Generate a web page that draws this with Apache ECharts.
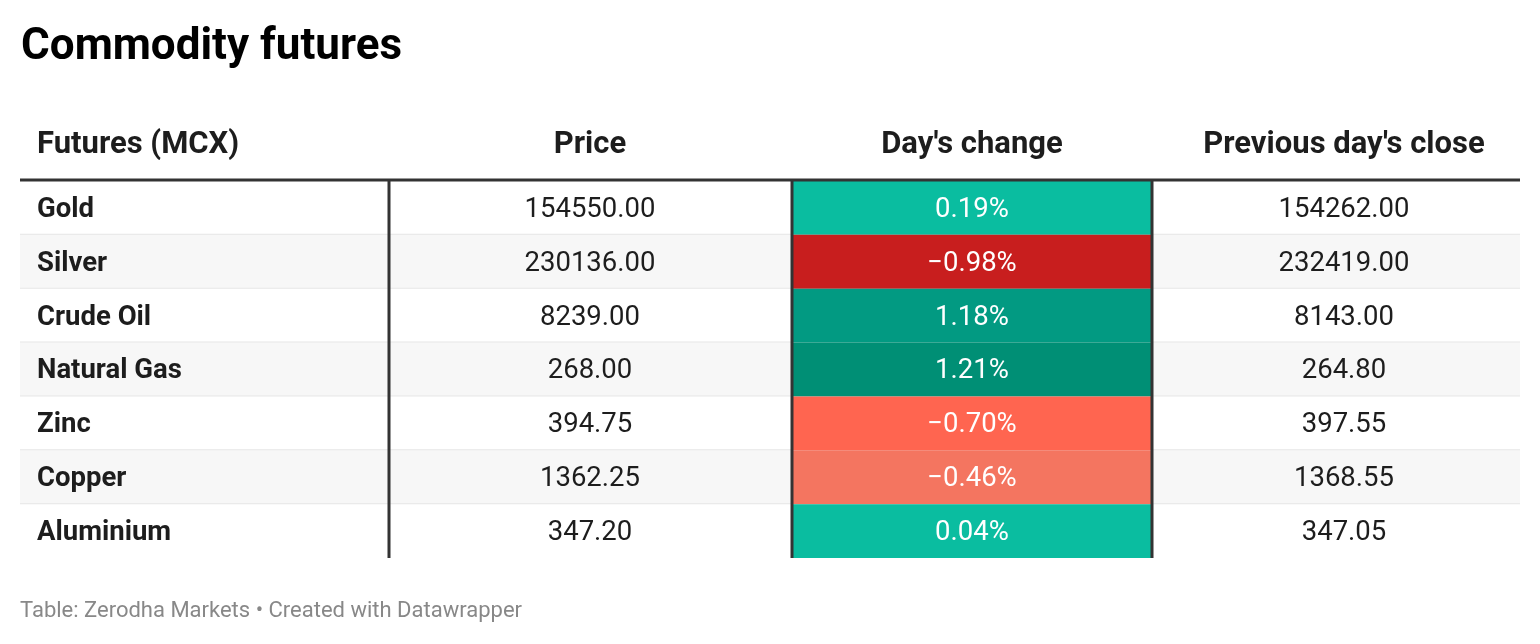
<!DOCTYPE html>
<html>
<head>
<meta charset="utf-8">
<title>Commodity futures</title>
<script src="https://cdn.jsdelivr.net/npm/echarts@6/dist/echarts.min.js"></script>
<style>
  html, body { margin: 0; padding: 0; background: #fff; }
  #chart { width: 1540px; height: 644px; }
</style>
</head>
<body>
<div id="chart"></div>
<script>
// table data
var headers = ['Futures (MCX)', 'Price', "Day's change", "Previous day's close"];
var commodities = ['Gold', 'Silver', 'Crude Oil', 'Natural Gas', 'Zinc', 'Copper', 'Aluminium'];
var prices = [154550.00, 230136.00, 8239.00, 268.00, 394.75, 1362.25, 347.20];
var changes = [0.19, -0.98, 1.18, 1.21, -0.70, -0.46, 0.04];
var prevClose = [154262.00, 232419.00, 8143.00, 264.80, 397.55, 1368.55, 347.05];

// layout (x units = px inside grid)
var colEdges = [0, 369, 772, 1132, 1500];
var colTextX = [17, 570, 952, 1324];
var FONT = 'Roboto, "Noto Sans", sans-serif';
var TEXT_DY = 2;

function fmt(v, d) {
  var s = Math.abs(v).toFixed(d);
  return (v < 0 ? '\u2212' : '') + s;
}

var chart = echarts.init(document.getElementById('chart'));

function rowBg(params, api) {
  var i = api.value(0);
  var p0 = api.coord([0, i]);
  var p1 = api.coord([1500, i + 1]);
  var children = [{
    type: 'rect',
    shape: { x: p0[0], y: p0[1], width: p1[0] - p0[0], height: p1[1] - p0[1] },
    style: { fill: i % 2 ? '#f7f7f7' : '#ffffff' }
  }];
  if (i < commodities.length - 1) {
    children.push({
      type: 'line',
      shape: { x1: p0[0], y1: p1[1], x2: p1[0], y2: p1[1] },
      style: { stroke: '#e6e6e6', lineWidth: 2 }
    });
  }
  return { type: 'group', children: children };
}

function textCells(params, api) {
  var i = api.value(0);
  var yc = api.coord([0, i + 0.5])[1] + TEXT_DY;
  var vals = [commodities[i], prices[i].toFixed(2), null, prevClose[i].toFixed(2)];
  var children = [];
  vals.forEach(function (t, j) {
    if (t === null) return;
    children.push({
      type: 'text',
      style: {
        text: t,
        x: api.coord([colTextX[j], i])[0],
        y: yc,
        fill: '#1d1d1d',
        font: (j === 0 ? 'bold ' : '') + '27.5px ' + FONT,
        align: j === 0 ? 'left' : 'center',
        verticalAlign: 'middle',
        textAlign: j === 0 ? 'left' : 'center',
        textVerticalAlign: 'middle'
      }
    });
  });
  return { type: 'group', children: children };
}

function changeCell(params, api) {
  var i = api.value(0);
  var v = api.value(1);
  var p0 = api.coord([colEdges[2], i]);
  var p1 = api.coord([colEdges[3], i + 1]);
  return {
    type: 'group',
    children: [{
      type: 'rect',
      shape: { x: p0[0], y: p0[1], width: p1[0] - p0[0], height: p1[1] - p0[1] },
      style: { fill: api.visual('color') }
    }, {
      type: 'text',
      style: {
        text: fmt(v, 2) + '%',
        x: api.coord([colTextX[2], i])[0],
        y: (p0[1] + p1[1]) / 2 + TEXT_DY,
        fill: '#ffffff',
        font: '27.5px ' + FONT,
        align: 'center', verticalAlign: 'middle',
        textAlign: 'center', textVerticalAlign: 'middle'
      }
    }]
  };
}

function borders(params, api) {
  var n = commodities.length;
  var top = api.coord([0, 0]);
  var bot = api.coord([1500, n]);
  var children = [{
    type: 'line',
    shape: { x1: top[0], y1: top[1] - 1, x2: bot[0], y2: top[1] - 1 },
    style: { stroke: '#333333', lineWidth: 3 }
  }];
  [1, 2, 3].forEach(function (k) {
    var x = api.coord([colEdges[k], 0])[0];
    children.push({
      type: 'line',
      shape: { x1: x, y1: top[1], x2: x, y2: bot[1] },
      style: { stroke: '#333333', lineWidth: 3 }
    });
  });
  return { type: 'group', children: children };
}

function headerCell(params, api) {
  var j = api.value(0);
  var p = api.coord([colTextX[j], -0.7]);
  return {
    type: 'text',
    style: {
      text: headers[j],
      x: p[0], y: p[1] + 2,
      fill: '#1d1d1d',
      font: 'bold 31px ' + FONT,
      align: j === 0 ? 'left' : 'center', verticalAlign: 'middle',
      textAlign: j === 0 ? 'left' : 'center', textVerticalAlign: 'middle'
    }
  };
}

var rowIdx = commodities.map(function (c, i) { return [i]; });

chart.setOption({
  animation: false,
  title: [{
    text: 'Commodity futures',
    left: 21, top: 26, padding: 0,
    textStyle: { fontFamily: FONT, fontSize: 44, fontWeight: 'bold', color: '#000' }
  }, {
    text: 'Table: Zerodha Markets \u2022 Created with Datawrapper',
    left: 20, top: 600, padding: 0,
    textStyle: { fontFamily: FONT, fontSize: 22, fontWeight: 'normal', color: '#888888' }
  }],
  grid: { left: 20, right: 20, top: 181, height: 377 },
  xAxis: { type: 'value', min: 0, max: 1500, show: false },
  yAxis: { type: 'value', min: 0, max: 7, inverse: true, show: false },
  visualMap: {
    type: 'piecewise', show: false, seriesIndex: 2, dimension: 1,
    pieces: [
      { lt: -0.8, color: '#c81e1e' },
      { gte: -0.8, lt: -0.6, color: '#ff6550' },
      { gte: -0.6, lt: 0, color: '#f47560' },
      { gte: 0, lt: 1, color: '#0abda0' },
      { gte: 1, lt: 1.2, color: '#029a82' },
      { gte: 1.2, color: '#008f75' }
    ]
  },
  series: [{
    type: 'custom', renderItem: rowBg, data: rowIdx, clip: false, silent: true
  }, {
    type: 'custom', renderItem: textCells, data: rowIdx, clip: false, silent: true
  }, {
    type: 'custom', renderItem: changeCell, clip: false, silent: true,
    data: changes.map(function (v, i) { return [i, v]; })
  }, {
    type: 'custom', renderItem: borders, data: [[0]], clip: false, silent: true
  }, {
    type: 'custom', renderItem: headerCell, clip: false, silent: true,
    data: headers.map(function (h, j) { return [j]; })
  }]
});
</script>
</body>
</html>
